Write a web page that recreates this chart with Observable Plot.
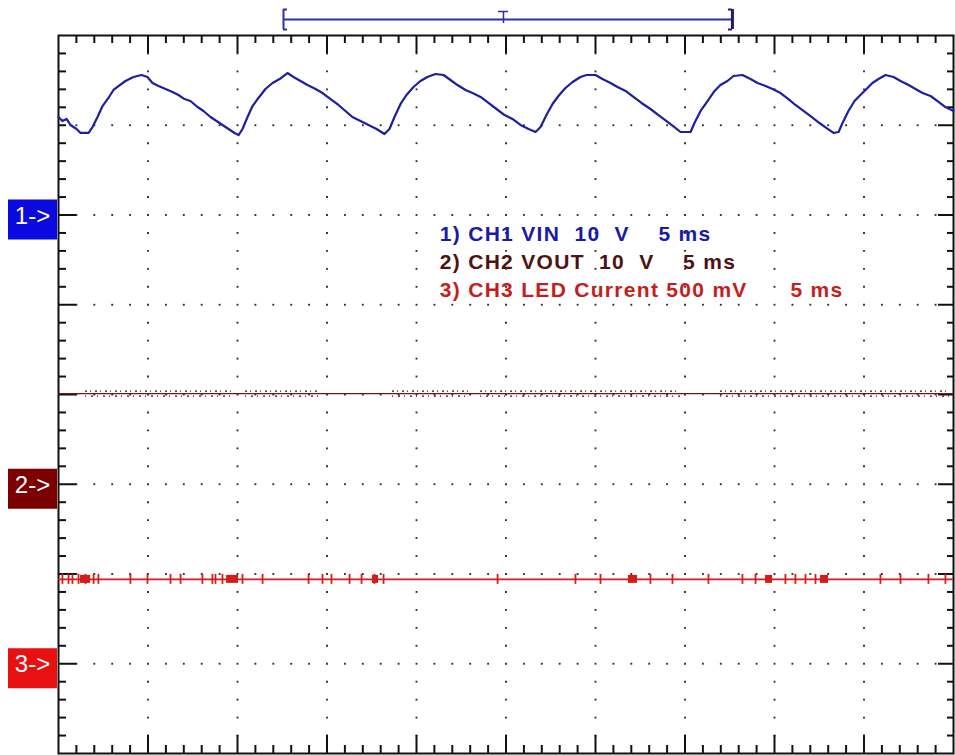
<!DOCTYPE html>
<html><head><meta charset="utf-8">
<script src="https://cdn.jsdelivr.net/npm/d3@7"></script>
<script src="https://cdn.jsdelivr.net/npm/@observablehq/plot@0.6"></script>
<style>html,body{margin:0;padding:0;background:#fff;overflow:hidden}#chart svg{display:block}
#chart g[font-weight="bold"] text{letter-spacing:1.3px}</style>
</head><body><div id="chart"></div>
<script>
// ---------- data (time in ms, values in volts) ----------
const ch1Time = [0,0.22,0.45,0.67,1.01,1.23,1.68,1.90,2.18,2.46,2.79,3.07,3.35,3.74,4.19,4.64,4.97,5.25,5.59,5.98,6.37,6.70,7.04,7.37,7.77,8.10,8.49,8.83,9.16,9.50,9.83,10.06,10.28,10.56,10.84,11.17,11.56,11.96,12.35,12.79,13.13,13.52,13.91,14.36,14.75,15.20,15.64,16.03,16.42,16.87,17.32,17.77,18.21,18.49,18.77,19.11,19.44,19.83,20.22,20.61,21.06,21.51,21.90,22.29,22.74,23.13,23.58,24.02,24.47,24.92,25.36,25.81,26.26,26.65,26.93,27.26,27.60,27.93,28.32,28.72,29.16,29.50,30.00,30.39,30.84,31.23,31.68,32.12,32.57,33.07,33.52,33.97,34.41,34.75,35.31,35.53,35.87,36.26,36.65,36.98,37.37,37.71,38.21,38.66,39.05,39.50,39.89,40.34,40.78,41.17,41.62,42.07,42.51,42.91,43.30,43.58,43.80,44.13,44.47,44.80,45.14,45.47,45.81,46.20,46.65,47.04,47.49,47.88,48.27,48.72,49.11,49.55,50.00];
const ch1Volts = [10.92,10.47,10.70,10.03,9.58,9.14,9.14,9.80,10.92,12.14,13.04,13.93,14.37,14.93,15.38,15.60,15.38,14.71,14.37,14.04,13.70,13.37,12.92,12.70,12.03,11.59,10.92,10.47,10.03,9.58,9.14,8.91,9.58,10.92,12.14,13.04,14.04,14.71,15.15,15.82,15.38,14.93,14.48,14.04,13.59,12.92,12.26,11.59,10.92,10.47,10.03,9.58,9.02,9.58,10.92,12.37,13.37,14.26,14.93,15.38,15.71,15.60,15.04,14.48,13.93,13.59,13.15,12.48,11.81,11.14,10.70,10.03,9.58,9.25,9.80,11.14,12.37,13.26,14.15,14.82,15.38,15.60,15.60,15.15,14.71,14.26,13.82,13.15,12.48,11.81,11.14,10.47,9.80,9.25,9.25,10.25,11.59,12.70,13.82,14.48,14.93,15.49,15.60,15.15,14.71,14.37,14.04,13.59,12.92,12.26,11.59,10.92,10.25,9.69,9.14,9.25,10.25,11.59,12.70,13.37,14.04,14.71,15.15,15.60,15.38,14.93,14.48,14.04,13.59,13.26,12.70,12.03,11.59];

const ch2Level = 10.1;                    // volts
const ch2NoisySpans = [[1.51,9.89],[10.45,14.64],[18.66,23.02],[23.58,34.75],[36.98,49.83]];

const ch3Level = 0.47;                    // volts
const ch3SpikeTimes = [0.22,0.56,0.78,1.12,1.51,1.96,2.23,4.02,4.97,6.26,6.82,8.04,8.60,8.77,9.16,10.28,11.40,13.97,14.75,15.25,16.26,16.93,17.65,18.16,24.53,28.88,30.28,33.07,34.30,36.31,38.21,38.94,40.61,41.17,41.73,42.29,45.92,47.04,48.60,49.55];
const ch3Bursts = [[1.23,1.79],[9.39,10.06],[17.54,17.88],[31.84,32.35],[39.50,39.89],[42.57,43.02]];

const channelNames = ["1->","2->","3->"];
const channelOffsetDiv = [2, -1, -3];
const channelVoltsPerDiv = [10, 10, 0.5];

const legendLines = ["1) CH1 VIN  10  V    5 ms","2) CH2 VOUT  10  V    5 ms","3) CH3 LED Current 500 mV      5 ms"];

const windowStart = 12.57, windowEnd = 37.65, triggerTime = 24.86; // ms

// ---------- styles / layout ----------
const traceColors = ["#1e1ea2","#7a1414","#d41c1c"];
const markerColors = ["#0a0ae0","#7c0000","#e81010"];
const legendColors = ["#1a1aa8","#4e1212","#c41e1e"];

const W = 955, H = 755, mL = 58, mR = 2, mT = 35, mB = 2;
const pxPerMs = (W - mL - mR) / 50;
const pxPerDiv = (H - mT - mB) / 8;
const pxY = p => p / pxPerDiv;   // pixel length -> div units
const pxX = p => p / pxPerMs;    // pixel length -> ms units

const toDiv = (ch, v) => channelOffsetDiv[ch] + v / channelVoltsPerDiv[ch];

const ch1 = ch1Time.map((t, i) => ({t, d: toDiv(0, ch1Volts[i])}));
const ch2Y = toDiv(1, ch2Level);
const ch3Y = toDiv(2, ch3Level);

// grid dots
const gridPts = [];
for (let k = 1; k <= 9; k++) for (let j = -19; j <= 19; j++) gridPts.push({t: k * 5, d: j * 0.2});
for (let j = -3; j <= 3; j++) for (let t = 1; t <= 49; t++) if (t % 5) gridPts.push({t, d: j});

const xTicks = d3.range(1, 50).map(t => ({t, major: t % 5 === 0}));
const yTicks = d3.range(-19, 20).map(j => ({d: j * 0.2, major: j % 5 === 0, j}));

const channels = channelNames.map((name, i) => ({name, d: channelOffsetDiv[i], color: markerColors[i]}));
const legend = legendLines.map((text, i) => ({text: text.replace(/ /g, "\u00a0"), color: legendColors[i], row: i}));

const bracketY = 4 + pxY(16);
const legendX = 21.3, legendTop = 1.78, legendStep = pxY(28);

const chart = Plot.plot({
  width: W, height: H,
  marginLeft: mL, marginRight: mR, marginTop: mT, marginBottom: mB,
  x: {domain: [0, 50], axis: null},
  y: {domain: [-4, 4], axis: null},
  style: {background: "#fff", overflow: "visible"},
  marks: [
    Plot.dot(gridPts, {x: "t", y: "d", r: 1.05, symbol: "square", fill: "#2a2a2a", stroke: null}),
    // frame ticks
    Plot.ruleX(xTicks, {x: "t", y1: 4, y2: d => 4 - pxY(d.major ? 18 : 8), stroke: "#111", strokeWidth: 2}),
    Plot.ruleX(xTicks, {x: "t", y1: -4, y2: d => -4 + pxY(d.major ? 18 : 8), stroke: "#111", strokeWidth: 2}),
    Plot.ruleY(yTicks, {y: "d", x1: 0, x2: d => pxX(d.major && d.j !== 15 ? 18 : 8), stroke: "#111", strokeWidth: 2}),
    Plot.ruleY(yTicks, {y: "d", x1: 50, x2: d => 50 - pxX(d.major ? 15 : 6), stroke: "#111", strokeWidth: 2}),
    Plot.frame({stroke: "#111", strokeWidth: 2}),
    // CH2
    Plot.ruleY([ch2Y], {x1: 0, x2: 50, stroke: traceColors[1], strokeWidth: 1.3}),
    Plot.ruleY(ch2NoisySpans, {y: ch2Y, x1: d => d[0], x2: d => d[1], dy: -2.5, stroke: "#3c0808", strokeWidth: 1.4, strokeDasharray: "2,3,1,4"}),
    Plot.ruleY(ch2NoisySpans, {y: ch2Y, x1: d => d[0], x2: d => d[1], dy: 2.5, stroke: "#3c0808", strokeWidth: 1.3, strokeDasharray: "1,5,2,4"}),
    // CH3
    Plot.ruleY([ch3Y], {x1: 0, x2: 50, stroke: traceColors[2], strokeWidth: 1.6}),
    Plot.ruleX(ch3SpikeTimes, {x: d => d, y1: ch3Y - pxY(5), y2: ch3Y + pxY(5), stroke: traceColors[2], strokeWidth: 1.8}),
    Plot.rect(ch3Bursts, {x1: d => d[0], x2: d => d[1], y1: ch3Y - pxY(4), y2: ch3Y + pxY(4), fill: traceColors[2]}),
    // CH1
    Plot.line(ch1, {x: "t", y: "d", stroke: traceColors[0], strokeWidth: 2.2}),
    // channel markers
    Plot.rect(channels, {x1: () => 0, x2: () => 0, y1: d => d.d + pxY(15), y2: d => d.d - pxY(25), insetLeft: -50, insetRight: 1, fill: "color"}),
    Plot.text(channels, {x: () => 0, y: "d", dx: -26, dy: 1, text: "name", fill: "#fff", fontSize: 24, fontFamily: "Liberation Sans, Arial, sans-serif", textAnchor: "middle"}),
    // legend
    Plot.text(legend, {x: () => legendX, y: d => legendTop - d.row * legendStep, text: "text", fill: "color", textAnchor: "start", fontSize: 21, fontWeight: "bold", fontFamily: "Liberation Sans, Arial, sans-serif"}),
    // acquisition window bracket + trigger
    Plot.ruleY([bracketY], {x1: windowStart, x2: windowEnd, stroke: "#3030a0", strokeWidth: 2}),
    Plot.ruleX([windowStart], {x: d => d, y1: bracketY - pxY(10), y2: bracketY + pxY(10), stroke: "#3030a0", strokeWidth: 2}),
    Plot.ruleY([bracketY - pxY(10), bracketY + pxY(10)], {y: d => d, x1: windowStart, x2: windowStart + pxX(4), stroke: "#3030a0", strokeWidth: 2}),
    Plot.ruleX([windowEnd], {x: d => d, y1: bracketY - pxY(10), y2: bracketY + pxY(10), stroke: "#1c1c70", strokeWidth: 3}),
    Plot.ruleY([bracketY - pxY(10), bracketY + pxY(10)], {y: d => d, x1: windowEnd - pxX(4), x2: windowEnd, stroke: "#1c1c70", strokeWidth: 2}),
    Plot.ruleX([triggerTime], {x: d => d, y1: bracketY - pxY(4), y2: bracketY + pxY(8), stroke: "#3030a0", strokeWidth: 1.5}),
    Plot.ruleY([bracketY + pxY(8)], {y: d => d, x1: triggerTime - pxX(5), x2: triggerTime + pxX(5), stroke: "#3030a0", strokeWidth: 1.5})
  ]
});
document.getElementById("chart").appendChild(chart);
</script>
</body></html>
